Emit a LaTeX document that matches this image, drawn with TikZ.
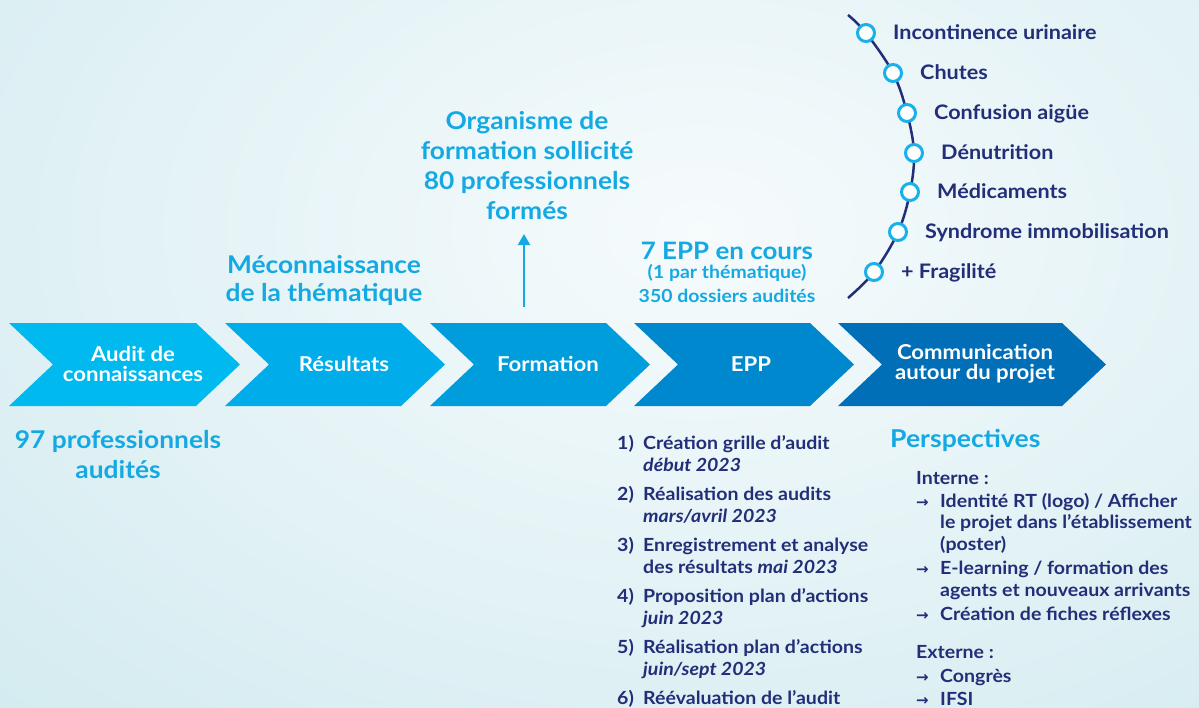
\documentclass[tikz,border=0pt]{standalone}
\usepackage{fontspec}
\setmainfont{Lato}[FakeStretch=1.08]
\newfontfamily\symbfont{DejaVu Sans}
\usetikzlibrary{positioning,arrows.meta}

\definecolor{fondbord}{HTML}{CDE8EE}
\definecolor{fondclair}{HTML}{F6FBFC}
\definecolor{cyantxt}{HTML}{14A9E2}
\definecolor{marine}{HTML}{222E78}
\definecolor{chevA}{HTML}{00B9EF}
\definecolor{chevB}{HTML}{00ADEA}
\definecolor{chevC}{HTML}{009DDD}
\definecolor{chevD}{HTML}{0088CE}
\definecolor{chevE}{HTML}{006FB7}
\definecolor{jalonbord}{HTML}{19B1EA}

\tikzset{
  titre/.style={text=cyantxt, font=\bfseries\fontsize{24.4}{30}\selectfont, align=center, inner sep=0pt},
  etiq/.style={text=white, font=\bfseries\fontsize{20.5}{20}\selectfont, align=center, inner sep=0pt},
  theme/.style={text=marine, font=\bfseries\fontsize{20}{22}\selectfont, inner sep=0pt, yshift=-4pt},
  etape/.style={text=marine, font=\bfseries\fontsize{18.1}{22}\selectfont, inner sep=0pt, anchor=mid west, yshift=-4pt},
  puce/.style={etape, font=\symbfont\bfseries\fontsize{15}{15}\selectfont},
  jalon/.style={circle, draw=jalonbord, fill=white, line width=3pt, inner sep=0pt, minimum size=17pt},
  fleche/.style={draw=cyantxt, line width=2pt, -{Triangle[width=12pt,length=11pt]}},
}

\begin{document}
\begin{tikzpicture}[x=1pt,y=-1pt]
\useasboundingbox (0,0) rectangle (1199,707);
% fond degrade
\fill[fondbord] (0,0) rectangle (1199,707);
\begin{scope}
  \clip (0,0) rectangle (1199,707);
  \shade[inner color=fondclair, outer color=fondbord] (-500,-570) rectangle (1900,1030);
\end{scope}

% les cinq etapes
\foreach \xa/\xb/\coul in {9/196/chevA, 225/401/chevB, 430/606/chevC, 634/810/chevD, 838/1062/chevE}
  \fill[\coul] (\xa,323) -- (\xb,323) -- (\xb+44,364.5) -- (\xb,406) -- (\xa,406) -- (\xa+44,364.5) -- cycle;

\node[etiq] (audit) at (133,364) {Audit de\\connaissances};
\node[etiq] (resultats) at (344,364) {Résultats};
\node[etiq] (formation) at (548,364) {Formation};
\node[etiq] (epp) at (751,364) {EPP};
\node[etiq] (comm) at (975,364) {Communication\\autour du projet};

% commentaires en cyan
\node[titre] (audites) at (118,455) {97 professionnels\\audités};
\node[titre, font=\bfseries\fontsize{24.4}{28}\selectfont] (meconn) at (324,280) {Méconnaissance\\de la thématique};
\node[titre] (organisme) at (527,166) {Organisme de\\formation sollicité\\80 professionnels\\formés};
\node[titre, font=\bfseries\fontsize{24}{28}\selectfont] (eppcours) at (727,251) {7 EPP en cours};
\node[titre, font=\bfseries\fontsize{18}{20}\selectfont] (parthem) at (727,273) {(1 par thématique)};
\node[titre, font=\bfseries\fontsize{18}{20}\selectfont] (dossiers) at (727,296) {350 dossiers audités};

\coordinate (fbas) at (524,307);
\coordinate (fhaut) at (524,234);
\draw[fleche] (fbas) -- (fhaut);

% thematiques
\foreach \x/\y [count=\i] in {866/33, 893/73, 907/113, 914/153, 910/192, 898/232, 874/272}
  \coordinate (p\i) at (\x,\y);
\coordinate (haut) at (848,15);
\coordinate (bas) at (848,298);
\draw[marine, line width=2.5pt] plot[smooth, tension=0.6] coordinates {(haut) (p1) (p2) (p3) (p4) (p5) (p6) (p7) (bas)};
\foreach \nom [count=\i] in {Incontinence urinaire, Chutes, Confusion aigüe, Dénutrition, Médicaments, Syndrome immobilisation, + Fragilité} {
  \node[jalon] (t\i) at (p\i) {};
  \node[theme, right=17pt of t\i, anchor=mid west] (l\i) {\nom};
}

% deroulement des EPP
\foreach \n/\ya/\la/\lb in {1/443/{Création grille d'audit}/{\textit{début 2023}},
    2/494/{Réalisation des audits}/{\textit{mars/avril 2023}},
    3/545/{Enregistrement et analyse}/{des résultats \textit{mai 2023}},
    4/596/{Proposition plan d'actions}/{\textit{juin 2023}},
    5/647/{Réalisation plan d'actions}/{\textit{juin/sept 2023}}} {
  \node[etape] (num\n) at (617,\ya) {\n)};
  \node[etape] (eta\n) at (643,\ya) {\la};
  \node[etape] (etb\n) at (643,\ya+22) {\lb};
}
\node[etape] (num6) at (617,698) {6)};
\node[etape] (eta6) at (643,698) {Réévaluation de l'audit};

% perspectives
\node[titre, font=\bfseries\fontsize{24.6}{26}\selectfont, anchor=mid west, yshift=-5pt] (persp) at (890,440) {Perspectives};
\node[etape] (interne) at (916,478) {Interne :};
\foreach \n/\ya/\txt in {1/501/{Identité RT (logo) / Afficher}, 2/568/{E-learning / formation des},
    3/614/{Création de fiches réflexes}, 4/676/{Congrès}, 5/699/{IFSI}} {
  \node[puce] (fl\n) at (916,\ya) {→};
  \node[etape] (pe\n) at (940,\ya) {\txt};
}
\node[etape] (suite1) at (940,522) {le projet dans l'établissement};
\node[etape] (suite2) at (940,544) {(poster)};
\node[etape] (suite3) at (940,590) {agents et nouveaux arrivants};
\node[etape] (externe) at (916,652) {Externe :};
\end{tikzpicture}
\end{document}
